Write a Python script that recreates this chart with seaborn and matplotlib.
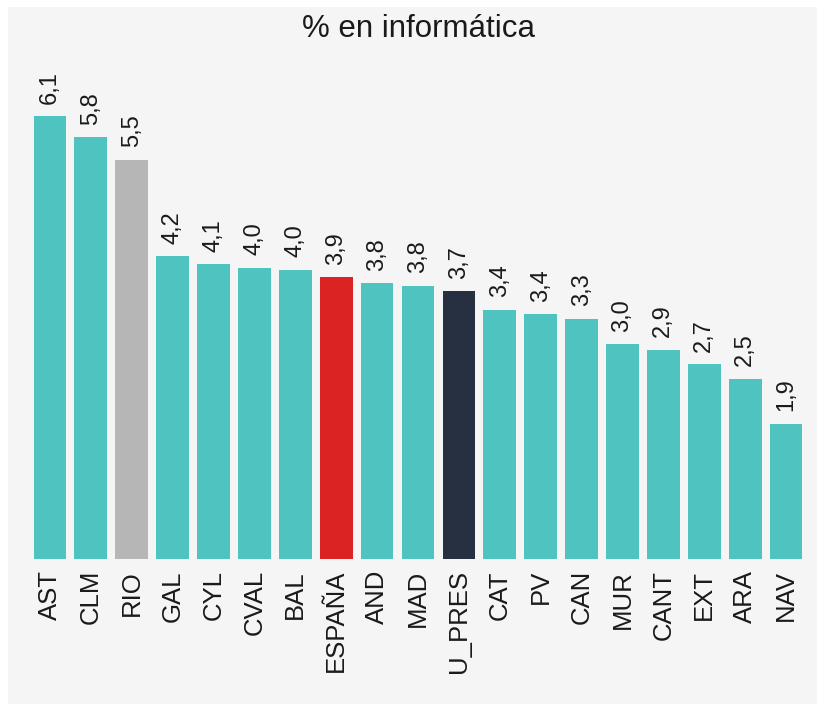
import matplotlib
matplotlib.use("Agg")
import matplotlib.pyplot as plt
import seaborn as sns
import pandas as pd
from matplotlib.patches import Rectangle

categories = ["AST", "CLM", "RIO", "GAL", "CYL", "CVAL", "BAL", "ESPAÑA", "AND", "MAD",
              "U_PRES", "CAT", "PV", "CAN", "MUR", "CANT", "EXT", "ARA", "NAV"]
values = [6.10, 5.81, 5.50, 4.17, 4.06, 4.01, 3.98, 3.88, 3.80, 3.76,
          3.69, 3.43, 3.37, 3.31, 2.96, 2.88, 2.68, 2.48, 1.86]
title = "% en informática"

TEAL = "#4ec3c0"
special = {"RIO": "#b6b6b6", "ESPAÑA": "#dc2324", "U_PRES": "#263040"}
palette = [special.get(c, TEAL) for c in categories]

plt.rcParams["font.family"] = ["Liberation Sans", "DejaVu Sans"]

df = pd.DataFrame({"cat": categories, "val": values})

W, H = 817, 704
fig = plt.figure(figsize=(W / 100, H / 100), dpi=100, facecolor="white")
fig.patches.append(Rectangle((8 / W, 0), 1 - 8 / W, 1 - 7 / H, transform=fig.transFigure,
                             facecolor="#f5f5f5", edgecolor="none", zorder=-10))

ymax = 6.6
px_per_unit = 443 / 6.1
ax = fig.add_axes([29.5 / W, 145 / H, 777 / W, ymax * px_per_unit / H])
ax.set_facecolor("none")

sns.barplot(data=df, x="cat", y="val", hue="cat", palette=palette, legend=False,
            width=0.8, ax=ax, saturation=1)

ax.set_ylim(0, ymax)
ax.set_xlim(-0.5, len(categories) - 0.5)
for s in ax.spines.values():
    s.set_visible(False)
ax.set_yticks([])
ax.set_xlabel("")
ax.set_ylabel("")
ax.tick_params(axis="x", length=0, pad=8, labelsize=18.5, labelcolor="#1a1a1a")
plt.setp(ax.get_xticklabels(), rotation=90)

for i, v in enumerate(values):
    ax.annotate(f"{v:.1f}".replace(".", ","), (i, v), xytext=(0, 9), textcoords="offset points",
                rotation=90, ha="center", va="bottom", fontsize=17, color="#1a1a1a")

ax.set_title(title, fontsize=22.5, pad=31, color="#1a1a1a")

fig.savefig("out.png", dpi=100, facecolor="white")
